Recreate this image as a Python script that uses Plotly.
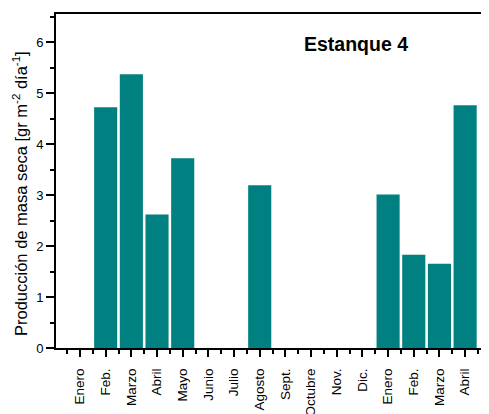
import plotly.graph_objects as go

months = ["Enero", "Feb.", "Marzo", "Abril", "Mayo", "Junio", "Julio", "Agosto",
          "Sept.", "Octubre", "Nov.", "Dic.", "Enero", "Feb.", "Marzo", "Abril"]
values = [None, 4.72, 5.37, 2.62, 3.72, None, None, 3.19,
          None, None, None, None, 3.01, 1.83, 1.65, 4.76]
positions = list(range(len(months)))

fig = go.Figure()
fig.add_trace(go.Bar(x=positions, y=values, width=0.9,
                     marker=dict(color="#008080", line=dict(width=0))))

# page body has an 8px default margin, so the figure starts at (8, 8)
PW, PH = 433, 334  # plot area in px
font_family = "Liberation Sans, Arial, sans-serif"
fig.update_layout(
    width=481, height=406,
    margin=dict(l=48, r=0, t=6, b=66),
    plot_bgcolor="white", paper_bgcolor="white",
    showlegend=False,
    font=dict(family=font_family, color="black", size=12),
    xaxis=dict(
        range=[-0.935, 15.93], automargin=False,
        tickmode="array", tickvals=positions, ticktext=months,
        tickangle=-90, ticks="outside", ticklen=7, tickwidth=2, tickcolor="black",
        ticklabelstandoff=6,
        showline=True, linecolor="black", linewidth=2, mirror=True,
        showgrid=False, zeroline=False,
        tickfont=dict(size=13.5),
        minor=dict(tickvals=[p + 0.5 for p in range(-1, 16)], ticks="outside",
                   ticklen=4, tickwidth=2, tickcolor="black", showgrid=False),
    ),
    yaxis=dict(
        range=[0, 6.55], automargin=False,
        tickmode="array", tickvals=[0, 1, 2, 3, 4, 5, 6],
        ticks="outside", ticklen=8, tickwidth=2, tickcolor="black",
        showline=True, linecolor="black", linewidth=2,
        showgrid=False, zeroline=False,
        tickfont=dict(size=13),
        minor=dict(tickvals=[0.5, 1.5, 2.5, 3.5, 4.5, 5.5, 6.5], ticks="outside",
                   ticklen=4, tickwidth=2, tickcolor="black", showgrid=False),
    ),
    annotations=[
        dict(text="<b>Estanque 4</b>", xref="paper", yref="paper",
             x=(356 - 56) / PW, y=1 - (44 - 14) / PH,
             xanchor="center", yanchor="middle",
             showarrow=False, font=dict(size=19.5)),
        dict(text="Producción de masa seca [gr m<sup>-2</sup> día<sup>-1</sup>]",
             xref="paper", yref="paper", textangle=-90,
             x=(20 - 56) / PW, y=(348 - 194) / PH,
             xanchor="center", yanchor="middle",
             showarrow=False, font=dict(size=16.5)),
    ],
)

fig.write_html("out.html")
